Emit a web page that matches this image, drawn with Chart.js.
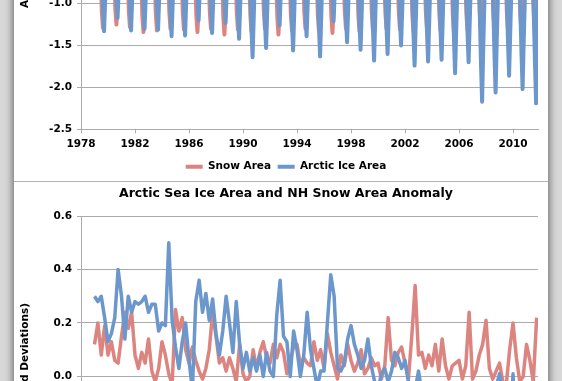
<!DOCTYPE html>
<html>
<head>
<meta charset="utf-8">
<title>Arctic Sea Ice Area and NH Snow Area</title>
<script src="https://cdn.jsdelivr.net/npm/chart.js@4.4.1/dist/chart.umd.min.js"></script>
<style>
  html, body { margin: 0; padding: 0; }
  body { position: relative; width: 562px; height: 381px; overflow: hidden; background: #d8d8d8; }
  #sheet { position: absolute; left: 14px; top: -400px; width: 534px; height: 1200px; background: #fff; box-shadow: 0 0 8px 1px rgba(0,0,0,0.55); }
  #topBox { position: absolute; left: 14px; top: 0; width: 534px; height: 181px; overflow: hidden; }
  #topChart { position: absolute; left: 0; top: -301px; }
  #divider { position: absolute; left: 14px; top: 181px; width: 534px; height: 1px; background: #b3b3b3; }
  #bottomChart { position: absolute; left: 14px; top: 182px; }
</style>
</head>
<body>
<div id="sheet"></div>
<div id="topBox"><canvas id="topChart" width="534" height="483"></canvas></div>
<div id="divider"></div>
<canvas id="bottomChart" width="534" height="434"></canvas>
<script>
// Top chart: winter peak plus the summer months around the low, per year (standard deviations)
const years = [1979, 1980, 1981, 1982, 1983, 1984, 1985, 1986, 1987, 1988, 1989,
  1990, 1991, 1992, 1993, 1994, 1995, 1996, 1997, 1998, 1999, 2000,
  2001, 2002, 2003, 2004, 2005, 2006, 2007, 2008, 2009, 2010, 2011];
const snowFeb = [1.22, 1.18, 1.20, 1.25, 1.19, 1.21, 1.24, 1.17, 1.20, 1.18, 1.15,
  1.16, 1.19, 1.21, 1.17, 1.20, 1.18, 1.14, 1.19, 1.16, 1.17, 1.20,
  1.18, 1.15, 1.19, 1.17, 1.14, 1.18, 1.16, 1.20, 1.17, 1.22, 1.19];
const snowJul = [-1.10, -1.06, -1.09, -1.14, -1.12, -1.10, -1.11, -1.14, -1.10, -1.16, -1.11,
  -1.13, -1.10, -1.16, -1.12, -1.10, -1.13, -1.15, -1.10, -1.13, -1.12, -1.10,
  -1.11, -1.13, -1.10, -1.12, -1.14, -1.11, -1.13, -1.12, -1.10, -1.14, -1.13];
const snowAug = [-1.29, -1.25, -1.28, -1.34, -1.32, -1.30, -1.31, -1.34, -1.30, -1.37, -1.31,
  -1.33, -1.30, -1.37, -1.32, -1.30, -1.33, -1.35, -1.30, -1.33, -1.32, -1.30,
  -1.31, -1.33, -1.30, -1.32, -1.34, -1.31, -1.33, -1.32, -1.30, -1.34, -1.33];
const snowSep = [-1.02, -0.98, -1.01, -1.06, -1.04, -1.02, -1.03, -1.06, -1.02, -1.08, -1.03,
  -1.05, -1.02, -1.08, -1.04, -1.02, -1.05, -1.07, -1.02, -1.05, -1.04, -1.02,
  -1.03, -1.05, -1.02, -1.04, -1.06, -1.03, -1.05, -1.04, -1.02, -1.06, -1.05];
const iceMar = [1.38, 1.40, 1.36, 1.39, 1.37, 1.33, 1.35, 1.36, 1.38, 1.37, 1.32,
  1.30, 1.31, 1.33, 1.34, 1.30, 1.28, 1.31, 1.29, 1.30, 1.26, 1.24,
  1.25, 1.22, 1.20, 1.21, 1.16, 1.13, 1.15, 1.18, 1.14, 1.10, 1.08];
const iceAug = [-1.03, -0.92, -1.02, -1.00, -1.02, -1.08, -1.06, -0.93, -1.04, -0.95, -1.10,
  -1.28, -1.20, -0.98, -1.22, -1.08, -1.27, -0.94, -1.14, -1.20, -1.30, -1.25,
  -1.17, -1.35, -1.32, -1.30, -1.42, -1.33, -1.70, -1.60, -1.45, -1.58, -1.70];
const iceSep = [-1.33, -1.17, -1.32, -1.30, -1.31, -1.39, -1.38, -1.20, -1.35, -1.23, -1.42,
  -1.64, -1.53, -1.26, -1.56, -1.39, -1.63, -1.21, -1.46, -1.55, -1.68, -1.60,
  -1.50, -1.74, -1.69, -1.67, -1.83, -1.70, -2.17, -2.06, -1.86, -2.02, -2.19];
const iceOct = [-0.95, -0.85, -0.93, -0.92, -0.93, -1.00, -0.98, -0.86, -0.96, -0.88, -1.02,
  -1.18, -1.10, -0.90, -1.13, -1.00, -1.17, -0.87, -1.05, -1.10, -1.20, -1.15,
  -1.08, -1.25, -1.22, -1.20, -1.32, -1.23, -1.55, -1.47, -1.35, -1.45, -1.57];
const snowNov2011 = 0.35;
const iceNov2011 = -0.55;

// Bottom chart: quarterly anomalies, starting 1979 Q1
const snowAnomaly = [
  0.12, 0.20, 0.08, 0.19, 0.08, 0.13, 0.06, 0.05, 0.15, 0.24,
  0.18, 0.24, 0.08, 0.03, 0.09, 0.05, 0.14, 0.02, -0.02, 0.03,
  0.13, 0.08, 0.01, -0.03, 0.25, 0.17, 0.22, 0.10, 0.05, 0.11,
  0.06, 0.02, -0.01, 0.03, 0.10, 0.24, 0.15, 0.05, 0.07, 0.02,
  0.07, 0.03, -0.02, 0.12, 0.01, -0.02, 0.00, 0.10, 0.03, 0.09,
  0.13, 0.07, 0.05, 0.12, 0.07, 0.12, 0.09, 0.01, 0.06, 0.11,
  0.12, 0.04, 0.07, 0.05, 0.04, 0.13, 0.06, 0.10, 0.03, 0.16,
  0.09, 0.04, -0.01, 0.08, 0.04, 0.12, 0.06, 0.02, 0.05, 0.10,
  0.01, 0.03, 0.07, 0.04, 0.05, -0.01, 0.04, 0.22, 0.06, 0.04,
  0.09, 0.11, 0.05, -0.01, 0.15, 0.34, 0.08, 0.09, 0.03, 0.08,
  0.04, 0.12, 0.02, 0.14, 0.04, -0.01, 0.04, 0.05, 0.06, -0.01,
  0.04, 0.24, -0.01, 0.02, 0.08, 0.12, 0.21, 0.03, -0.01, 0.02,
  0.05, -0.02, -0.03, 0.10, 0.20, 0.07, -0.02, 0.00, 0.12, 0.06,
  -0.02, 0.22];
const iceAnomaly = [
  0.30, 0.28, 0.30, 0.22, 0.13, 0.16, 0.22, 0.40, 0.30, 0.14,
  0.30, 0.24, 0.28, 0.27, 0.28, 0.30, 0.24, 0.27, 0.27, 0.17,
  0.20, 0.19, 0.50, 0.21, 0.11, 0.03, 0.13, 0.20, 0.06, -0.05,
  0.28, 0.36, 0.24, 0.31, 0.21, 0.29, 0.16, 0.08, 0.17, 0.30,
  0.20, 0.09, 0.28, 0.12, 0.03, 0.09, 0.02, 0.07, 0.02, 0.08,
  0.00, 0.09, 0.02, 0.00, 0.23, 0.36, 0.15, 0.13, 0.00, 0.17,
  0.10, 0.00, 0.08, 0.24, 0.10, 0.03, -0.04, 0.02, 0.02, 0.20,
  0.38, 0.30, 0.03, 0.02, 0.05, 0.14, 0.19, 0.12, 0.08, 0.03,
  0.06, 0.14, 0.04, -0.02, -0.05, 0.01, 0.03, -0.02, 0.02, 0.09,
  0.07, 0.03, 0.06, -0.02, -0.08, -0.05, 0.02, -0.06, -0.12, -0.09,
  -0.15, -0.10, -0.18, -0.12, -0.22, -0.16, -0.25, -0.14, -0.20, -0.30,
  -0.24, -0.38, -0.45, -0.30, -0.35, -0.28, -0.20, -0.12, -0.08, -0.04,
  0.01, -0.06, -0.15, -0.22, 0.01, -0.28, -0.20, -0.10, -0.05, -0.12,
  -0.25, -0.30];

const xTicks = [1978, 1982, 1986, 1990, 1994, 1998, 2002, 2006, 2010];
const topYTicks = [-2.5, -2.0, -1.5, -1.0, -0.5, 0.0, 0.5, 1.0, 1.5, 2.0, 2.5];
const bottomYTicks = [-0.8, -0.6, -0.4, -0.2, 0.0, 0.2, 0.4, 0.6];

const snowColor = "#dc8580";
const iceColor = "#6c97cc";
const gridColor = "#ababab";
const FONT = '"DejaVu Sans", Verdana, sans-serif';

Chart.defaults.font.family = FONT;
Chart.defaults.font.size = 10.5;
Chart.defaults.font.weight = "bold";
Chart.defaults.color = "#000";

// month midpoint as a fraction of the year
const mid = m => (m - 0.5) / 12;

const snowPoints = [];
const icePoints = [];
years.forEach((yr, i) => {
  snowPoints.push(
    { x: yr + mid(2), y: snowFeb[i] },
    { x: yr + mid(7), y: snowJul[i] },
    { x: yr + mid(8), y: snowAug[i] },
    { x: yr + mid(9), y: snowSep[i] });
  icePoints.push(
    { x: yr + mid(3), y: iceMar[i] },
    { x: yr + mid(8), y: iceAug[i] },
    { x: yr + mid(9), y: iceSep[i] },
    { x: yr + mid(10), y: iceOct[i] });
});
snowPoints.push({ x: 2011 + mid(11), y: snowNov2011 });
icePoints.push({ x: 2011 + mid(11), y: iceNov2011 });

const snowAnomPoints = snowAnomaly.map((v, i) => ({ x: 1979 + i / 4, y: v }));
const iceAnomPoints = iceAnomaly.map((v, i) => ({ x: 1979 + i / 4, y: v }));

function xScale() {
  return {
    type: "linear",
    min: 1978,
    max: 2011.85,
    afterBuildTicks: s => { s.ticks = xTicks.map(v => ({ value: v })); },
    ticks: { padding: 4.5, callback: v => String(v) },
    grid: { drawOnChartArea: false, drawTicks: true, tickLength: 4, color: gridColor },
    border: { color: gridColor }
  };
}

function yScale(tickList, titleText) {
  return {
    min: tickList[0],
    max: tickList[tickList.length - 1],
    afterBuildTicks: s => { s.ticks = tickList.map(v => ({ value: v })); },
    afterFit: s => { s.width = 47; },
    ticks: { padding: 5, callback: v => v.toFixed(1) },
    grid: { color: gridColor, tickLength: 4 },
    border: { color: gridColor },
    title: { display: true, text: titleText, padding: { top: -15, bottom: 0 } }
  };
}

function lineSet(label, data, color, width, order) {
  return {
    label: label,
    data: data,
    borderColor: color,
    backgroundColor: color,
    borderWidth: width,
    pointRadius: 0,
    tension: 0,
    borderJoinStyle: "round",
    order: order
  };
}

// Top chart
new Chart(document.getElementById("topChart"), {
  type: "line",
  data: {
    datasets: [
      lineSet("Snow Area", snowPoints, snowColor, 4, 1),
      lineSet("Arctic Ice Area", icePoints, iceColor, 4, 0)
    ]
  },
  options: {
    responsive: false,
    animation: false,
    devicePixelRatio: 1,
    events: [],
    layout: { padding: { top: 10, left: 20, right: 10, bottom: 0 } },
    scales: {
      x: xScale(),
      y: yScale(topYTicks, "Area (in Standard Deviations)")
    },
    plugins: {
      tooltip: { enabled: false },
      legend: {
        position: "bottom",
        labels: {
          boxWidth: 17,
          boxHeight: 4,
          padding: 6.6,
          sort: (a, b) => a.datasetIndex - b.datasetIndex,
          generateLabels: chart =>
            Chart.defaults.plugins.legend.labels.generateLabels(chart).map(l =>
              Object.assign(l, { lineWidth: 0, fillStyle: l.strokeStyle }))
        }
      }
    }
  }
});

// Bottom chart
new Chart(document.getElementById("bottomChart"), {
  type: "line",
  data: {
    datasets: [
      lineSet("NH Snow Area Anomaly", snowAnomPoints, snowColor, 3.5, 1),
      lineSet("Arctic Sea Ice Area Anomaly", iceAnomPoints, iceColor, 3.5, 0)
    ]
  },
  options: {
    responsive: false,
    animation: false,
    devicePixelRatio: 1,
    events: [],
    layout: { padding: { top: 0, left: 20, right: 10, bottom: 0 } },
    scales: {
      x: xScale(),
      y: yScale(bottomYTicks, "Anomaly (in Standard Deviations)")
    },
    plugins: {
      tooltip: { enabled: false },
      legend: { display: false },
      title: {
        display: true,
        text: "Arctic Sea Ice Area and NH Snow Area Anomaly",
        font: { size: 12.5, weight: "bold" },
        padding: { top: 4, bottom: 15 }
      }
    }
  }
});
</script>
</body>
</html>
